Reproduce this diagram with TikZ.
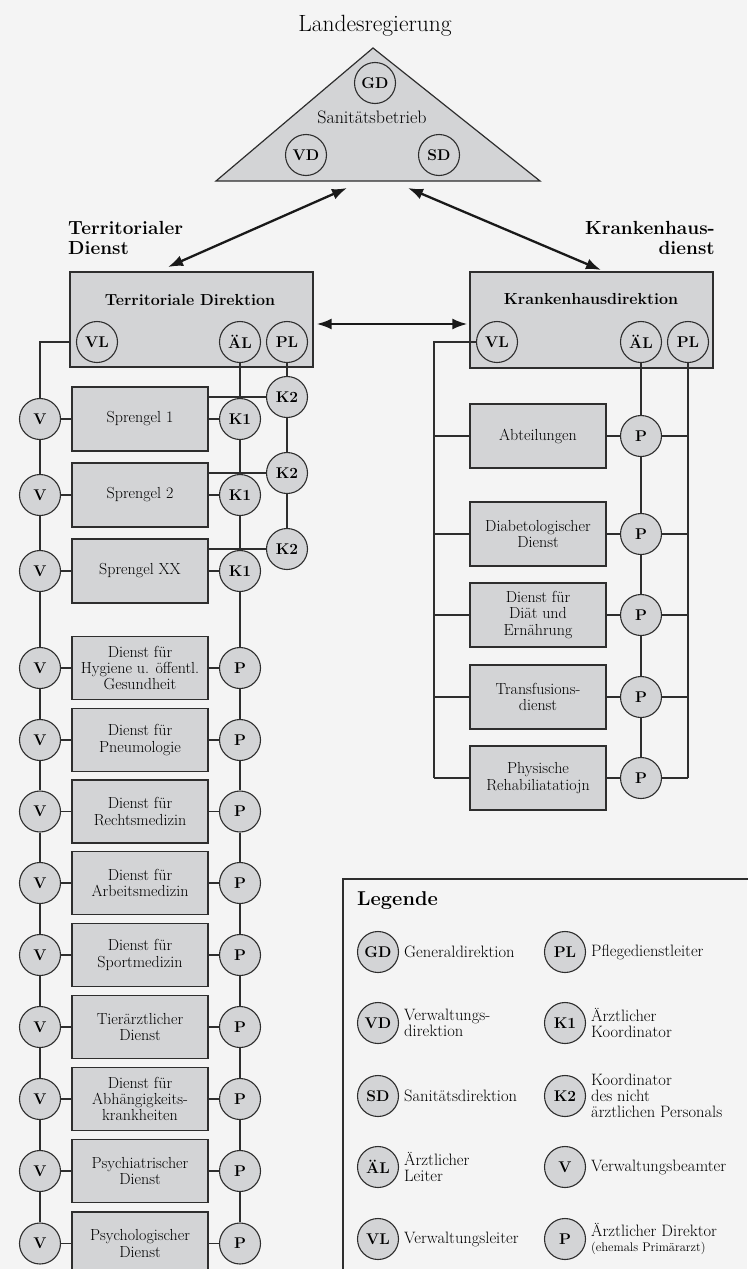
\documentclass[tikz,border=0pt]{standalone}
\usetikzlibrary{arrows.meta}
\definecolor{bg}{HTML}{F4F4F4}
\definecolor{fillg}{HTML}{D3D4D6}
\definecolor{ln}{HTML}{2E2E2E}
\begin{document}
\begin{tikzpicture}[x=1pt,y=-1pt,
 box/.style={draw=ln, fill=fillg, line width=1.3pt, minimum width=136pt, minimum height=63pt, align=center, inner sep=0pt, font=\fontsize{16}{16.2}\selectfont},
 circ/.style={circle, draw=ln, fill=fillg, line width=1.1pt, minimum size=41pt, inner sep=0pt, font=\bfseries\fontsize{15.5}{15.5}\selectfont},
 tcirc/.style={circ, fill=none},
 conn/.style={draw=ln, line width=1.2pt},
 arr/.style={draw=black!90, line width=2.3pt, {Latex[length=15pt,width=11pt]}-{Latex[length=15pt,width=11pt]}},
 dirbox/.style={box, minimum width=243pt, minimum height=95pt},
 lgtext/.style={anchor=west, align=left, inner sep=0pt, font=\fontsize{16.5}{15.8}\selectfont},
 dirtitle/.style={font=\bfseries\fontsize{16}{16}\selectfont},
 sidelabel/.style={inner sep=0pt, font=\bfseries\fontsize{19}{20}\selectfont},
]
\fill[bg] (0,0) rectangle (747,1269);
\useasboundingbox (0,0) rectangle (747,1269);

% title and triangle
\node[font=\fontsize{23.5}{23.5}\selectfont] (title) at (375,26) {Landesregierung};
\draw[ln, fill=fillg, line width=1.2pt] (216,181) -- (540,181) -- (373,48) -- cycle;
\node[tcirc] (gd) at (375,83) {GD};
\node[font=\fontsize{18}{18}\selectfont] (sb) at (372,117) {Sanitätsbetrieb};
\node[tcirc] (vd) at (306,155) {VD};
\node[tcirc] (sd) at (439,155) {SD};

% side labels
\node[sidelabel, anchor=north west, align=left] (tdl) at (68,221) {Territorialer\\Dienst};
\node[sidelabel, anchor=north east, align=right] (kdl) at (715,221) {Krankenhaus-\\dienst};

% arrows
\coordinate (a1s) at (347,188); \coordinate (a1e) at (168,267);
\coordinate (a2s) at (408,188); \coordinate (a2e) at (601,270);
\draw[arr] (a1s) -- (a1e);
\draw[arr] (a2s) -- (a2e);

% territorial direction
\node[dirbox] (TD) at (191.5,319.5) {};
\node[dirtitle] (TDt) at (190,300) {Territoriale Direktion};
\node[tcirc] (vla) at (97,342) {VL};
\node[tcirc] (ala) at (240,342) {ÄL};
\node[tcirc] (pla) at (287,342) {PL};

% hospital direction
\node[dirbox, minimum height=96pt] (KD) at (591.5,320) {};
\node[dirtitle] (KDt) at (591,299) {Krankenhausdirektion};
\node[tcirc] (vlb) at (497,342) {VL};
\node[tcirc] (alb) at (641,342) {ÄL};
\node[tcirc] (plb) at (688,342) {PL};

\draw[arr] ([shift={(3pt,-4.5pt)}]TD.east) -- ([shift={(-2pt,-4pt)}]KD.west);

% Sprengel
\foreach \y/\t [count=\i] in {419/{Sprengel 1},495/{Sprengel 2},571/{Sprengel XX}}{
  \node[box, minimum height=64pt] (sa\i) at (140,\y) {\t};
  \node[circ] (va\i) at (40,\y) {V};
  \node[circ] (pa\i) at (240,\y) {K1};
}
\foreach \y [count=\i] in {397,473,549}{
  \node[circ] (ka\i) at (287,\y) {K2};
}
% other territorial services
\foreach \y/\t [count=\i from 4] in {
  668/{Dienst für\\Hygiene u. öffentl.\\Gesundheit},
  740/{Dienst für\\Pneumologie},
  811.5/{Dienst für\\Rechtsmedizin},
  883/{Dienst für\\Arbeitsmedizin},
  955/{Dienst für\\Sportmedizin},
  1027/{Tierärztlicher\\Dienst},
  1099/{Dienst für\\Abhängigkeits-\\krankheiten},
  1171/{Psychiatrischer\\Dienst},
  1243.5/{Psychologischer\\Dienst}}{
  \node[box] (sa\i) at (140,\y) {\t};
  \node[circ] (va\i) at (40,\y) {V};
  \node[circ] (pa\i) at (240,\y) {P};
}

% left connectors
\draw[conn] (TD.west |- vla) -- (vla -| va1) -- (va1);
\foreach \i [evaluate=\i as \j using int(\i+1)] in {1,...,11}{
  \draw[conn] (va\i) -- (va\j);
  \draw[conn] (pa\i) -- (pa\j);
}
\foreach \i in {1,...,12}{
  \draw[conn] (va\i) -- (sa\i);
  \draw[conn] (sa\i) -- (pa\i);
}
\draw[conn] (ala) -- (pa1);
\draw[conn] (pla) -- (ka1) -- (ka2) -- (ka3);
\foreach \i in {1,2,3}{
  \draw[conn] (ka\i) -- (ka\i -| sa\i.east);
}

% hospital services
\foreach \y/\t [count=\i] in {
  436/{Abteilungen},
  534/{Diabetologischer\\Dienst},
  615/{Dienst für\\Diät und\\Ernährung},
  697/{Transfusions-\\dienst},
  778/{Physische\\Rehabiliatatiojn}}{
  \node[box, minimum height=64pt] (sb\i) at (538,\y) {\t};
  \node[circ] (pb\i) at (641,\y) {P};
}
\coordinate (rl) at (434,342);
\draw[conn] (vlb) -- (rl) -- (rl |- sb5.west);
\draw[conn] (alb) -- (pb1) -- (pb2) -- (pb3) -- (pb4) -- (pb5);
\draw[conn] (plb) -- (plb |- pb5);
\foreach \i in {1,...,5}{
  \draw[conn] (rl |- sb\i.west) -- (sb\i);
  \draw[conn] (sb\i) -- (pb\i);
  \draw[conn] (pb\i) -- (plb |- pb\i);
}

% legend
\draw[ln, line width=1.5pt] (343,879) rectangle (780,1300);
\node[anchor=west, inner sep=0pt, font=\bfseries\fontsize{20}{20}\selectfont] (lg) at (357,901) {Legende};
\foreach \y/\a/\ta/\b/\tb [count=\i] in {
  952/GD/{Generaldirektion}/PL/{Pflegedienstleiter},
  1023/VD/{Verwaltungs-\\direktion}/K1/{Ärztlicher\\Koordinator},
  1096/SD/{Sanitätsdirektion}/K2/{Koordinator\\des nicht\\ärztlichen Personals},
  1167/ÄL/{Ärztlicher\\Leiter}/V/{Verwaltungsbeamter},
  1239/VL/{Verwaltungsleiter}/P/{Ärztlicher Direktor\\{\fontsize{12.5}{12}\selectfont(ehemals Primärarzt)}}}{
  \node[circ] (lc\i) at (378,\y) {\a};
  \node[lgtext] (lt\i) at (404,\y) {\ta};
  \node[circ] (ld\i) at (565,\y) {\b};
  \node[lgtext] (lu\i) at (591,\y) {\tb};
}
\end{tikzpicture}
\end{document}
